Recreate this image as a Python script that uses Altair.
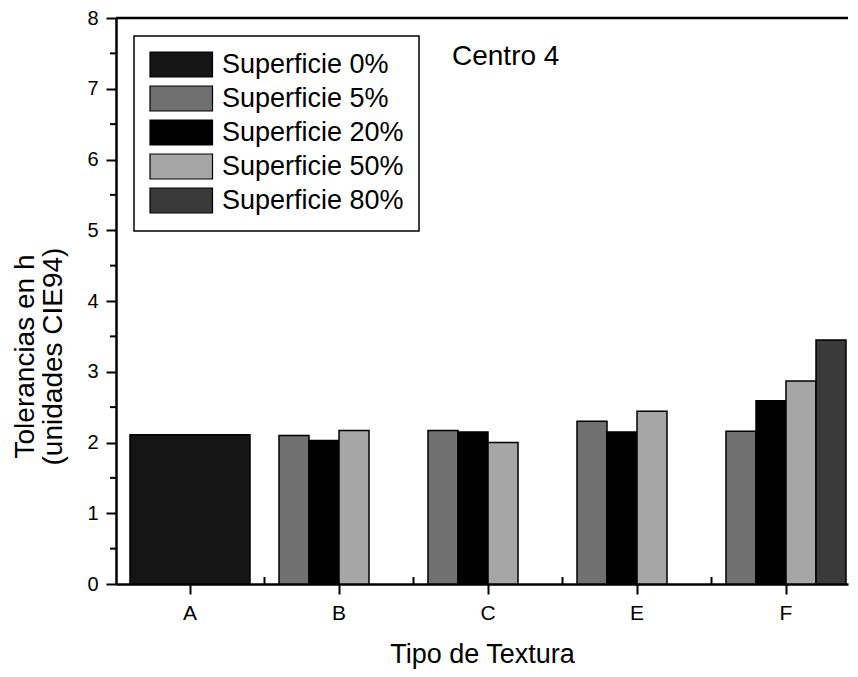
import altair as alt
import pandas as pd

# ---- data ----
tipos = ["A", "B", "C", "E", "F"]
series = ["Superficie 0%", "Superficie 5%", "Superficie 20%", "Superficie 50%", "Superficie 80%"]
sup0 = [2.11, None, None, None, None]
sup5 = [None, 2.10, 2.17, 2.30, 2.16]
sup20 = [None, 2.03, 2.15, 2.15, 2.59]
sup50 = [None, 2.17, 2.00, 2.44, 2.87]
sup80 = [None, None, None, None, 3.45]
colores = ["#151515", "#707070", "#000000", "#a6a6a6", "#3a3a3a"]
y_ticks = [0, 1, 2, 3, 4, 5, 6, 7, 8]
y_minor = [0.5, 1.5, 2.5, 3.5, 4.5, 5.5, 6.5, 7.5]
x_minor = ["B", "C", "E", "F"]
anotacion = ["Centro 4"]

rows = []
for s, vals in zip(series, [sup0, sup5, sup20, sup50, sup80]):
    for t, v in zip(tipos, vals):
        if v is not None:
            rows.append({"Tipo": t, "Serie": s, "Valor": v})
df = pd.DataFrame(rows)
df_a = df[df["Serie"] == series[0]]
df_rest = df[df["Serie"] != series[0]]

W, H = 732, 566
FONT = "Liberation Sans"
step = 149.0
p_inner = 29.0 / 149.0
p_outer = (W / step - 5 + p_inner) / 2

x_scale = alt.Scale(domain=tipos, paddingInner=p_inner, paddingOuter=p_outer, align=0.875)
y_scale = alt.Scale(domain=[0, 8], nice=False, zero=True)
color = alt.Color(
    "Serie:N",
    scale=alt.Scale(domain=series, range=colores),
    title=None,
    legend=alt.Legend(
        orient="none", legendX=18, legendY=18,
        symbolType="M-1,-1H4V1H-1Z", symbolSize=625,
        symbolStrokeColor="black", symbolStrokeWidth=1.2, symbolOpacity=1,
        labelFontSize=27, labelFont=FONT, labelColor="black", labelOffset=46,
        rowPadding=3, padding=15, strokeColor="black", fillColor="white",
        labelLimit=400,
    ),
)

x_axis = alt.Axis(
    labelAngle=0, tickSize=10, tickWidth=2, tickColor="black", domainColor="black",
    domainWidth=2.5, labelFontSize=21, labelFont=FONT, labelColor="black", labelPadding=8,
    title="Tipo de Textura", titleFontSize=27, titleFont=FONT, titleFontWeight="normal",
    titleColor="black", titlePadding=18,
)
y_axis = alt.Axis(
    values=y_ticks, tickSize=10, tickWidth=2, tickColor="black", domainColor="black",
    domainWidth=2.5, labelFontSize=20, labelFont=FONT, labelColor="black", labelPadding=8,
    grid=False, title=["Tolerancias en h", "(unidades CIE94)"], titleFontSize=28,
    titleFont=FONT, titleFontWeight="normal", titleColor="black", titlePadding=19,
    titleLineHeight=28, titleY=338,
)

bar_a = alt.Chart(df_a).mark_bar(stroke="black", strokeWidth=1.5).encode(
    x=alt.X("Tipo:N", scale=x_scale, axis=x_axis),
    y=alt.Y("Valor:Q", scale=y_scale, axis=y_axis),
    color=color,
)
bar_rest = alt.Chart(df_rest).mark_bar(stroke="black", strokeWidth=1.5).encode(
    x=alt.X("Tipo:N", scale=x_scale, axis=x_axis),
    xOffset=alt.XOffset("Serie:N", scale=alt.Scale(domain=series[1:], paddingInner=0, paddingOuter=0)),
    y=alt.Y("Valor:Q", scale=y_scale, axis=y_axis),
    color=color,
)

ymin_df = pd.DataFrame({"v": y_minor})
y_minor_ticks = alt.Chart(ymin_df).mark_rule(color="black", strokeWidth=2).encode(
    y=alt.Y("v:Q", scale=y_scale, axis=y_axis), x=alt.value(-6), x2=alt.value(0)
)
xmin_df = pd.DataFrame({"Tipo": x_minor})
x_minor_ticks = alt.Chart(xmin_df).mark_rule(color="black", strokeWidth=2, xOffset=-step / 2).encode(
    x=alt.X("Tipo:N", scale=x_scale, axis=x_axis), y=alt.value(H), y2=alt.value(H - 7)
)
top_df = pd.DataFrame({"k": [0]})
top_line = alt.Chart(top_df).mark_rule(color="black", strokeWidth=2.5).encode(
    x=alt.value(0), x2=alt.value(W), y=alt.value(0)
)
ann_df = pd.DataFrame({"t": anotacion})
ann = alt.Chart(ann_df).mark_text(
    align="left", baseline="middle", fontSize=28, font=FONT, color="black"
).encode(x=alt.value(336), y=alt.value(39), text="t:N")

chart = alt.layer(bar_a, bar_rest, y_minor_ticks, x_minor_ticks, top_line, ann).properties(
    width=W, height=H,
    autosize=alt.AutoSizeParams(type="none"),
    padding={"left": 108, "top": 10, "right": 2, "bottom": 85},
    background="white",
).configure_view(stroke=None).configure_legend(strokeWidth=1.5)

chart.save("out.html", embed_options={"renderer": "svg", "actions": False})
